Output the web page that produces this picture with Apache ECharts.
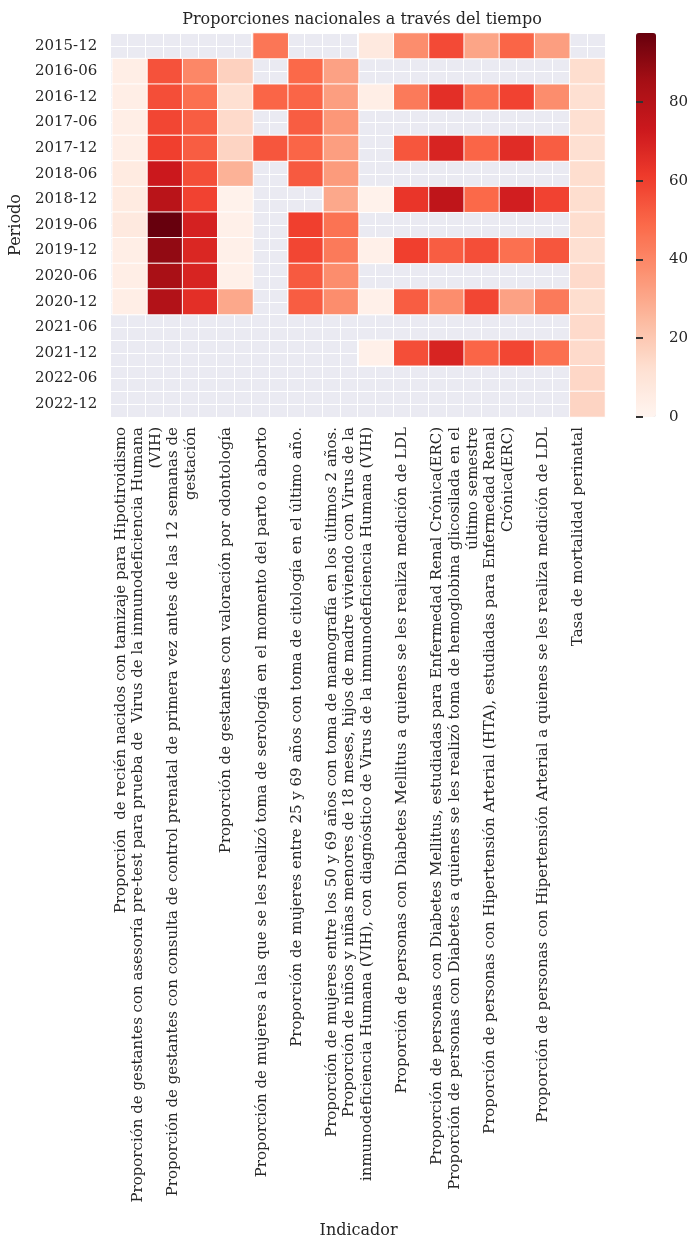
<!doctype html>
<html lang="es">
<head>
    <meta charset="UTF-8">
    <script src="https://cdn.jsdelivr.net/npm/echarts@6/dist/echarts.min.js"></script>
    <title>Proporciones nacionales</title>
    <style>
        body { margin: 0; background: #fff; }
    </style>
</head>
<body>
<div id="main" style="width: 698px;height:1250px;"></div>
<script>
    // periodos (filas) e indicadores (columnas)
    var periodos = ['2015-12', '2016-06', '2016-12', '2017-06', '2017-12', '2018-06', '2018-12',
        '2019-06', '2019-12', '2020-06', '2020-12', '2021-06', '2021-12', '2022-06', '2022-12'];
    var indicadores = [
        'Proporción  de recién nacidos con tamizaje para Hipotiroidismo',
        'Proporción de gestantes con asesoría pre-test para prueba de  Virus de la inmunodeficiencia Humana\n(VIH)',
        'Proporción de gestantes con consulta de control prenatal de primera vez antes de las 12 semanas de\ngestación',
        'Proporción de gestantes con valoración por odontología',
        'Proporción de mujeres a las que se les realizó toma de serología en el momento del parto o aborto',
        'Proporción de mujeres entre 25 y 69 años con toma de citología en el último año.',
        'Proporción de mujeres entre los 50 y 69 años con toma de mamografía en los últimos 2 años.',
        'Proporción de niños y niñas menores de 18 meses, hijos de madre viviendo con Virus de la\ninmunodeficiencia Humana (VIH), con diagnóstico de Virus de la inmunodeficiencia Humana (VIH)',
        'Proporción de personas con Diabetes Mellitus a quienes se les realiza medición de LDL',
        'Proporción de personas con Diabetes Mellitus, estudiadas para Enfermedad Renal Crónica(ERC)',
        'Proporción de personas con Diabetes a quienes se les realizó toma de hemoglobina glicosilada en el\núltimo semestre',
        'Proporción de personas con Hipertensión Arterial (HTA), estudiadas para Enfermedad Renal\nCrónica(ERC)',
        'Proporción de personas con Hipertensión Arterial a quienes se les realiza medición de LDL',
        'Tasa de mortalidad perinatal'
    ];

    // valores por indicador, un valor por periodo (null = sin dato)
    var hipotiroidismo   = [null, 4, 4, 4, 4, 6, 6, 7, 4, 4, 4, null, null, null, null];
    var asesoriaVih      = [null, 55, 56, 58, 60, 73, 79, 97.5, 89, 84, 81, null, null, null, null];
    var controlPrenatal  = [null, 40, 47, 52, 52, 56, 59, 70, 68, 69, 65, null, null, null, null];
    var odontologia      = [null, 17, 12, 14, 16, 27, 2, 3, 3, 3, 30, null, null, null, null];
    var serologia        = [45, null, 50, null, 54, null, null, null, null, null, null, null, null, null, null];
    var citologia        = [null, 49, 50, 52, 50, 53, null, 60, 58, 53, 52, null, null, null, null];
    var mamografia       = [null, 32, 33, 35, 33, 34, 30, 46, 44, 38, 38, null, null, null, null];
    var ninosVih         = [7, null, 4, null, null, null, 2, null, 3, null, 3, null, 3, null, null];
    var diabetesLdl      = [38, null, 44, null, 54, null, 63, null, 60, null, 52, null, 56, null, null];
    var diabetesErc      = [57, null, 65, null, 69, null, 77, null, 52, null, 38, null, 69, null, null];
    var hemoglobina      = [31, null, 46, null, 50, null, 49, null, 56, null, 58, null, 50, null, null];
    var hipertensionErc  = [50, null, 59, null, 66, null, 71, null, 47, null, 32, null, 58, null, null];
    var hipertensionLdl  = [33, null, 38, null, 52, null, 59, null, 54, null, 44, null, 47, null, null];
    var mortalidad       = [null, 13, 12, 12, 12, 13, 13, 13, 12, 14, 13, 14, 14, 15, 16];

    var colorbarTicks = [0, 20, 40, 60, 80];
    var reds = ['#fff5f0', '#fee0d2', '#fcbba1', '#fc9272', '#fb6a4a', '#ef3b2c', '#cb181d', '#a50f15', '#67000d'];

    var columnas = [hipotiroidismo, asesoriaVih, controlPrenatal, odontologia, serologia, citologia, mamografia,
        ninosVih, diabetesLdl, diabetesErc, hemoglobina, hipertensionErc, hipertensionLdl, mortalidad];

    var datos = [];
    var maximo = 0;
    for (var c = 0; c < columnas.length; c++) {
        for (var r = 0; r < periodos.length; r++) {
            var v = columnas[c][r];
            if (v === null) continue;
            datos.push([c, r, v]);
            if (v > maximo) maximo = v;
        }
    }

    var fuente = 'DejaVu Serif';
    var texto = '#262626';

    var myChart = echarts.init(document.getElementById('main'));
    var option = {
        backgroundColor: '#ffffff',
        textStyle: { fontFamily: fuente, color: texto },
        title: {
            text: 'Proporciones nacionales a través del tiempo',
            left: 357,
            top: 7,
            textAlign: 'center',
            textStyle: { fontFamily: fuente, fontSize: 16, fontWeight: 'normal', color: texto }
        },
        grid: [
            { left: 110, top: 33, width: 495, height: 384 },
            { left: 110, top: 33, width: 495, height: 384, show: true, backgroundColor: '#eaeaf2', borderWidth: 0 },
            { left: 636, top: 33, width: 20, height: 384 }
        ],
        xAxis: [
            {
                type: 'category', gridIndex: 0, data: indicadores,
                axisLine: { show: false }, axisTick: { show: false }, splitLine: { show: false },
                axisLabel: {
                    interval: 0, rotate: 90, margin: 10,
                    align: 'right', verticalAlign: 'bottom',
                    fontFamily: fuente, fontSize: 15, lineHeight: 18, color: texto
                },
                name: 'Indicador', nameLocation: 'middle', nameGap: 806,
                nameTextStyle: { fontFamily: fuente, fontSize: 16, color: texto }
            },
            {
                type: 'value', gridIndex: 1, min: 0, max: indicadores.length * 2, interval: 1,
                axisLine: { show: false }, axisTick: { show: false }, axisLabel: { show: false },
                splitLine: { show: true, lineStyle: { color: '#ffffff', width: 1 } }
            },
            {
                type: 'value', gridIndex: 2, min: 0, max: 1, show: false
            }
        ],
        yAxis: [
            {
                type: 'category', gridIndex: 0, data: periodos, inverse: true,
                axisLine: { show: false }, axisTick: { show: false }, splitLine: { show: false },
                axisLabel: { interval: 0, margin: 15, fontFamily: fuente, fontSize: 15, color: texto },
                name: 'Periodo', nameLocation: 'middle', nameGap: 80, nameRotate: 90,
                nameTextStyle: { fontFamily: fuente, fontSize: 16, color: texto }
            },
            {
                type: 'value', gridIndex: 1, min: 0, max: periodos.length * 2, interval: 1,
                axisLine: { show: false }, axisTick: { show: false }, axisLabel: { show: false },
                splitLine: { show: true, lineStyle: { color: '#ffffff', width: 1 } }
            },
            {
                type: 'value', gridIndex: 2, position: 'right', min: 0, max: maximo, z: 10,
                axisLine: { show: true, lineStyle: { color: 'rgba(0,0,0,0)' } },
                axisTick: {
                    show: true, inside: false, length: 7, customValues: colorbarTicks,
                    lineStyle: { color: '#333333', width: 2 }
                },
                axisLabel: {
                    customValues: colorbarTicks, margin: 13,
                    fontFamily: fuente, fontSize: 15, color: texto
                },
                splitLine: { show: false }
            }
        ],
        visualMap: {
            type: 'continuous',
            seriesIndex: 0,
            min: 0,
            max: maximo,
            calculable: false,
            showLabel: false,
            text: null,
            left: 636,
            top: 33,
            itemWidth: 20,
            itemHeight: 384,
            padding: 0,
            inRange: { color: reds }
        },
        series: [
            {
                type: 'heatmap',
                xAxisIndex: 0,
                yAxisIndex: 0,
                data: datos,
                itemStyle: { borderColor: '#ffffff', borderWidth: 1 },
                emphasis: { disabled: true }
            },
            {
                type: 'scatter', xAxisIndex: 2, yAxisIndex: 2, data: []
            }
        ]
    };
    myChart.setOption(option);
</script>
</body>
</html>
